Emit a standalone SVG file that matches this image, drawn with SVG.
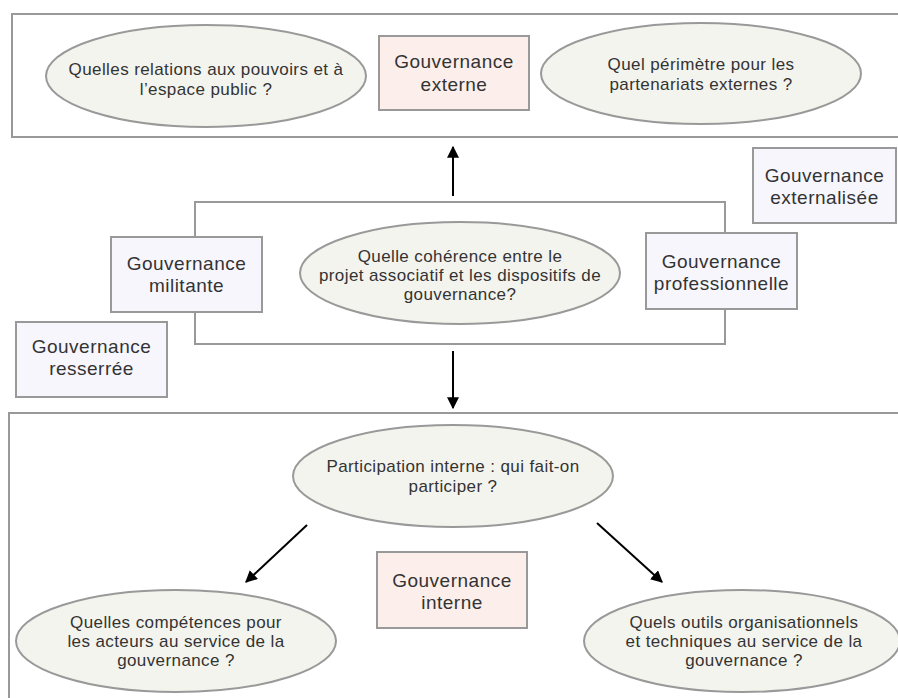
<svg xmlns="http://www.w3.org/2000/svg" width="898" height="698" viewBox="0 0 898 698">
<style>
.frame{fill:none;stroke:#999;stroke-width:2}
.ell{fill:#f4f4ee;stroke:#999;stroke-width:2}
.pink{fill:#fcefeb;stroke:#999;stroke-width:2}
.lav{fill:#f7f6fd;stroke:#999;stroke-width:2}
.t{font-family:"Liberation Sans",Arial,sans-serif;font-size:17px;letter-spacing:0.4px;fill:#333;text-anchor:middle}
.b{font-family:"Liberation Sans",Arial,sans-serif;font-size:19px;letter-spacing:0.5px;fill:#333;text-anchor:middle}
.arr{stroke:#000;stroke-width:2;fill:none;marker-end:url(#ah)}
</style>
<defs>
<marker id="ah" viewBox="0 0 10 10" refX="9" refY="5" markerWidth="6" markerHeight="6" markerUnits="strokeWidth" orient="auto">
<path d="M0,0 L10,5 L0,10 z" fill="#000"/>
</marker>
</defs>
<rect width="898" height="698" fill="#fff"/>
<g id="frames">
<rect class="frame" x="12" y="14" width="890" height="123"/>
<rect class="frame" x="195" y="202" width="530" height="142"/>
<rect class="frame" x="9" y="413" width="900" height="300"/>
</g>
<g id="connectors">
<line class="arr" x1="453" y1="196" x2="453" y2="147"/>
<line class="arr" x1="453" y1="351" x2="453" y2="408"/>
<line class="arr" x1="307" y1="525" x2="246" y2="582"/>
<line class="arr" x1="597" y1="523" x2="662" y2="582"/>
</g>
<g id="q-relations">
<ellipse class="ell" cx="206" cy="76" rx="160" ry="51"/>
<text class="t" x="206" y="75">Quelles relations aux pouvoirs et à</text>
<text class="t" x="206" y="95">l’espace public ?</text>
</g>
<g id="gouv-externe">
<rect class="pink" x="379" y="36" width="150" height="74"/>
<text class="b" x="454" y="68">Gouvernance</text>
<text class="b" x="454" y="91">externe</text>
</g>
<g id="q-perimetre">
<ellipse class="ell" cx="701" cy="73.5" rx="160" ry="50.5"/>
<text class="t" x="701" y="70">Quel périmètre pour les</text>
<text class="t" x="701" y="90">partenariats externes ?</text>
</g>
<g id="gouv-externalisee">
<rect class="lav" x="753" y="148" width="143" height="75"/>
<text class="b" x="824.5" y="182">Gouvernance</text>
<text class="b" x="824.5" y="204">externalisée</text>
</g>
<g id="gouv-militante">
<rect class="lav" x="111" y="237" width="151" height="75"/>
<text class="b" x="186.5" y="270">Gouvernance</text>
<text class="b" x="186.5" y="292">militante</text>
</g>
<g id="q-coherence">
<ellipse class="ell" cx="460" cy="273" rx="160" ry="51"/>
<text class="t" x="460" y="262">Quelle cohérence entre le</text>
<text class="t" x="460" y="281">projet associatif et les dispositifs de</text>
<text class="t" x="460" y="300">gouvernance?</text>
</g>
<g id="gouv-professionnelle">
<rect class="lav" x="646" y="233" width="151" height="76"/>
<text class="b" x="721.5" y="268">Gouvernance</text>
<text class="b" x="721.5" y="290">professionnelle</text>
</g>
<g id="gouv-resserree">
<rect class="lav" x="16" y="322" width="151" height="75"/>
<text class="b" x="91.5" y="353">Gouvernance</text>
<text class="b" x="91.5" y="375">resserrée</text>
</g>
<g id="q-participation">
<ellipse class="ell" cx="453" cy="476" rx="160" ry="51"/>
<text class="t" x="453" y="472">Participation interne : qui fait-on</text>
<text class="t" x="453" y="492">participer ?</text>
</g>
<g id="gouv-interne">
<rect class="pink" x="377" y="552" width="150" height="76"/>
<text class="b" x="452" y="587">Gouvernance</text>
<text class="b" x="452" y="609">interne</text>
</g>
<g id="q-competences">
<ellipse class="ell" cx="176" cy="641" rx="160" ry="51"/>
<text class="t" x="176" y="628">Quelles compétences pour</text>
<text class="t" x="176" y="647">les acteurs au service de la</text>
<text class="t" x="176" y="666">gouvernance ?</text>
</g>
<g id="q-outils">
<ellipse class="ell" cx="742" cy="641" rx="158" ry="51"/>
<text class="t" x="744" y="628">Quels outils organisationnels</text>
<text class="t" x="744" y="647">et techniques au service de la</text>
<text class="t" x="744" y="666">gouvernance ?</text>
</g>
</svg>
